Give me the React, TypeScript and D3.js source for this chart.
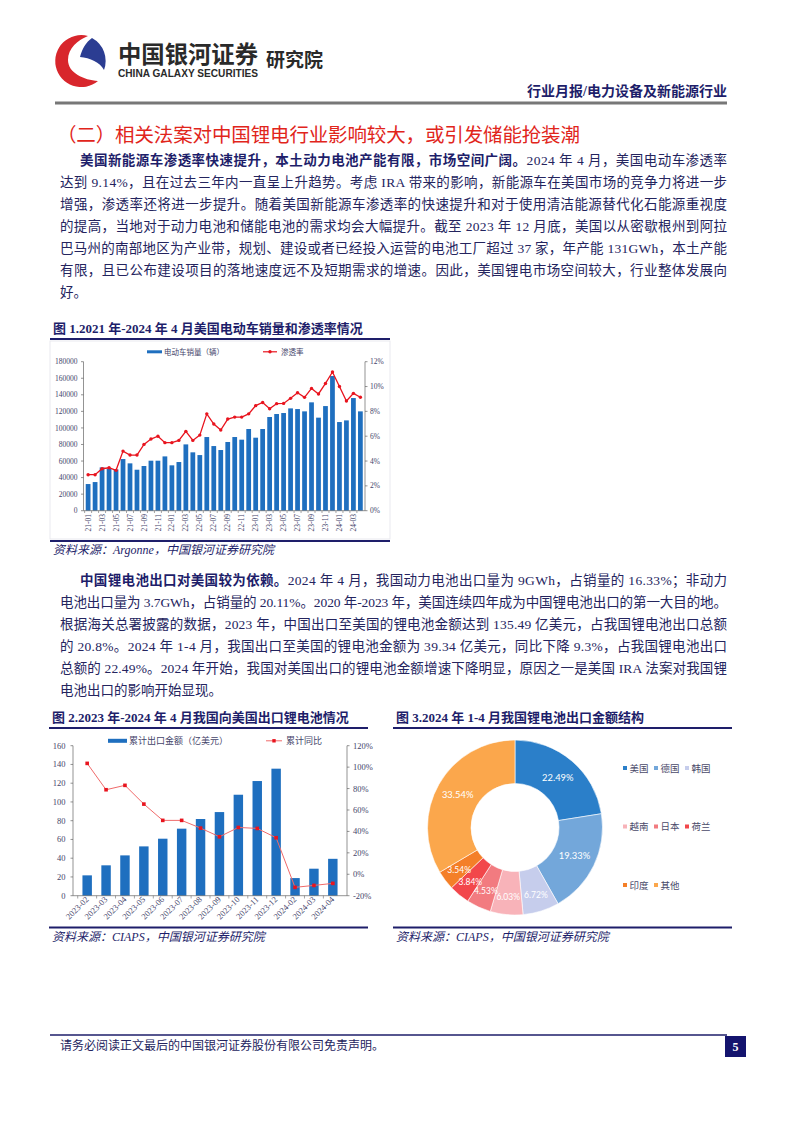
import React from "react"
import * as d3 from "d3"

// ---- data: figure 1 (US EV sales & penetration) ----
const evMonths = [
  "21-01", "21-02", "21-03", "21-04", "21-05", "21-06", "21-07", "21-08", "21-09", "21-10", "21-11", "21-12",
  "22-01", "22-02", "22-03", "22-04", "22-05", "22-06", "22-07", "22-08", "22-09", "22-10", "22-11", "22-12",
  "23-01", "23-02", "23-03", "23-04", "23-05", "23-06", "23-07", "23-08", "23-09", "23-10", "23-11", "23-12",
  "24-01", "24-02", "24-03", "24-04",
]
const evSales = [
  32200, 34600, 52300, 50700, 49900, 62400, 57200, 49500, 54000, 60400, 60400, 65600,
  54800, 58800, 80100, 70500, 67200, 89000, 78100, 73300, 83000, 89000, 85800, 98700,
  88200, 98700, 113200, 116800, 118000, 123600, 122800, 120000, 130900, 112400, 126400, 162700,
  107100, 109100, 136100, 120000,
]
const evRate = [
  2.9, 2.9, 3.38, 3.46, 3.25, 4.8, 4.48, 4.48, 5.34, 5.77, 6.0, 5.48,
  5.48, 5.66, 6.39, 5.66, 6.09, 7.8, 6.98, 6.5, 7.38, 7.54, 7.54, 7.8,
  8.46, 8.72, 8.21, 8.62, 8.64, 9.05, 9.5, 9.13, 9.85, 9.4, 10.25, 11.17,
  10.0, 8.83, 9.45, 9.14,
]
const evLeftTicks = [0, 20000, 40000, 60000, 80000, 100000, 120000, 140000, 160000, 180000]
const evRightTicks = [0, 2, 4, 6, 8, 10, 12]

// ---- data: figure 2 (exports to US) ----
const expMonths = [
  "2023-02", "2023-03", "2023-04", "2023-05", "2023-06", "2023-07", "2023-08", "2023-09",
  "2023-10", "2023-11", "2023-12", "2024-02", "2024-03", "2024-04",
]
const expAmount = [21.7, 32.4, 43, 52.6, 60.8, 71.5, 81.8, 89.2, 107.7, 122.3, 135.49, 18.8, 28.8, 39.34]
const expYoy = [103.5, 78.9, 83, 65.5, 50.3, 50.3, 43.1, 35, 43.7, 42.8, 34.1, -12.2, -10.4, -8.5]
const expLeftTicks = [0, 20, 40, 60, 80, 100, 120, 140, 160]
const expRightTicks = [-20, 0, 20, 40, 60, 80, 100, 120]

// ---- data: figure 3 (export structure) ----
const shareNames = ["美国", "德国", "韩国", "越南", "日本", "荷兰", "印度", "其他"]
const shareValues = [22.49, 19.33, 6.72, 6.03, 4.53, 3.84, 3.54, 33.54]
const shareColors = ["#2b7fc9", "#73a7da", "#c6cdec", "#f8b3b9", "#f27b80", "#f2474b", "#f47f28", "#fba74c"]

const SERIF = '"Liberation Serif", "Noto Sans CJK SC", serif'
const NAVY = "#1e1e6a"
const TXT = "#24245e"
const BLUE = "#1f6fbf"
const RED = "#e8141e"

const para1 = [
  { b: "美国新能源车渗透率快速提升，本土动力电池产能有限，市场空间广阔。", t: "2024 年 4 月，美国电动车渗透率" },
  { t: "达到 9.14%，且在过去三年内一直呈上升趋势。考虑 IRA 带来的影响，新能源车在美国市场的竞争力将进一步" },
  { t: "增强，渗透率还将进一步提升。随着美国新能源车渗透率的快速提升和对于使用清洁能源替代化石能源重视度" },
  { t: "的提高，当地对于动力电池和储能电池的需求均会大幅提升。截至 2023 年 12 月底，美国以从密歇根州到阿拉" },
  { t: "巴马州的南部地区为产业带，规划、建设或者已经投入运营的电池工厂超过 37 家，年产能 131GWh，本土产能" },
  { t: "有限，且已公布建设项目的落地速度远不及短期需求的增速。因此，美国锂电市场空间较大，行业整体发展向" },
  { t: "好。", last: true },
]
const para2 = [
  { b: "中国锂电池出口对美国较为依赖。", t: "2024 年 4 月，我国动力电池出口量为 9GWh，占销量的 16.33%；非动力" },
  { t: "电池出口量为 3.7GWh，占销量的 20.11%。2020 年-2023 年，美国连续四年成为中国锂电池出口的第一大目的地。" },
  { t: "根据海关总署披露的数据，2023 年，中国出口至美国的锂电池金额达到 135.49 亿美元，占我国锂电池出口总额" },
  { t: "的 20.8%。2024 年 1-4 月，我国出口至美国的锂电池金额为 39.34 亿美元，同比下降 9.3%，占我国锂电池出口" },
  { t: "总额的 22.49%。2024 年开始，我国对美国出口的锂电池金额增速下降明显，原因之一是美国 IRA 法案对我国锂" },
  { t: "电池出口的影响开始显现。", last: true },
]

type Line = { b?: string; t: string; last?: boolean }

function Paragraph({ lines, y0 }: { lines: Line[]; y0: number }) {
  return (
    <g fontFamily={SERIF} fontSize={13.5} fill={TXT}>
      {lines.map((l, i) => {
        const x = i === 0 ? 80 : 60
        const fit = l.last ? {} : { textLength: 727 - x, lengthAdjust: "spacing" }
        return (
          <text key={i} x={x} y={y0 + i * 22} {...fit}>
            {l.b && <tspan fontWeight="bold" fill={NAVY}>{l.b}</tspan>}
            <tspan>{l.t}</tspan>
          </text>
        )
      })}
    </g>
  )
}

function FigTitle({ x, x2, y, text }: { x: number; x2: number; y: number; text: string }) {
  return (
    <g>
      <text x={x + 3} y={y} fontFamily={SERIF} fontSize={13} fontWeight="bold" fill={NAVY}>{text}</text>
      <line x1={x} x2={x2} y1={y + 6} y2={y + 6} stroke={NAVY} strokeWidth={2} />
    </g>
  )
}

function Source({ x, x2, y, text }: { x: number; x2: number; y: number; text: string }) {
  return (
    <g>
      <line x1={x} x2={x2} y1={y} y2={y} stroke={NAVY} strokeWidth={2} />
      <text x={x + 3} y={y + 13} fontFamily={SERIF} fontSize={12} fontStyle="italic" fill={NAVY}>{text}</text>
    </g>
  )
}

function EvChart() {
  const x = d3.scaleBand<string>().domain(evMonths).range([83.5, 365]).padding(0.32)
  const yL = d3.scaleLinear().domain([0, 180000]).range([510.7, 361.7])
  const yR = d3.scaleLinear().domain([0, 12]).range([510.7, 361.7])
  const cx = (m: string) => (x(m) ?? 0) + x.bandwidth() / 2
  const gap = (x.step() - x.bandwidth()) / 2
  const line = d3.line<number>().x((_, i) => cx(evMonths[i])).y((d) => yR(d))
  const tc = "#44446a"
  return (
    <g fontFamily={SERIF}>
      <rect x={50} y={341} width={340} height={198} fill="none" stroke="#e4e4ea" strokeWidth={0.8} />
      {/* legend */}
      <rect x={147} y={350.3} width={15} height={3} fill={BLUE} />
      <text x={164} y={354.5} fontSize={7.5} fill={tc}>电动车销量（辆）</text>
      <line x1={263} x2={277} y1={351.8} y2={351.8} stroke={RED} strokeWidth={1.2} />
      <circle cx={270} cy={351.8} r={1.7} fill={RED} />
      <text x={281} y={354.5} fontSize={7.5} fill={tc}>渗透率</text>
      {/* bars */}
      {evSales.map((v, i) => (
        <rect key={i} x={x(evMonths[i])} y={yL(v)} width={x.bandwidth()} height={yL(0) - yL(v)} fill={BLUE} />
      ))}
      {/* axes */}
      <line x1={83.5} x2={83.5} y1={361.7} y2={510.7} stroke="#666" strokeWidth={0.7} />
      <line x1={365} x2={365} y1={361.7} y2={510.7} stroke="#666" strokeWidth={0.7} />
      <line x1={83.5} x2={365} y1={510.7} y2={510.7} stroke="#666" strokeWidth={0.7} />
      {evLeftTicks.map((t) => (
        <g key={t}>
          <line x1={81} x2={83.5} y1={yL(t)} y2={yL(t)} stroke="#666" strokeWidth={0.7} />
          <text x={77.5} y={yL(t) + 2.6} fontSize={7.5} textAnchor="end" fill={tc}>{t}</text>
        </g>
      ))}
      {evRightTicks.map((t) => (
        <g key={t}>
          <line x1={365} x2={367.5} y1={yR(t)} y2={yR(t)} stroke="#666" strokeWidth={0.7} />
          <text x={370} y={yR(t) + 2.6} fontSize={7.5} fill={tc}>{t}%</text>
        </g>
      ))}
      {evMonths.map((m, i) => (
        <g key={m}>
          <line x1={(x(m) ?? 0) - gap} x2={(x(m) ?? 0) - gap} y1={510.7} y2={513} stroke="#666" strokeWidth={0.6} />
          {i % 2 === 0 && (
            <text transform={`translate(${cx(m) + 2.6},${514}) rotate(-90)`} fontSize={7.5} textAnchor="end" fill={tc}>{m}</text>
          )}
        </g>
      ))}
      {/* line */}
      <path d={line(evRate) ?? ""} fill="none" stroke={RED} strokeWidth={1.3} />
      {evRate.map((v, i) => (
        <circle key={i} cx={cx(evMonths[i])} cy={yR(v)} r={1.7} fill={RED} />
      ))}
    </g>
  )
}

function ExportChart() {
  const x = d3.scaleBand<string>().domain(expMonths).range([73, 347]).padding(0.5)
  const yL = d3.scaleLinear().domain([0, 160]).range([895.7, 745.7])
  const yR = d3.scaleLinear().domain([-20, 120]).range([895.7, 745.7])
  const cx = (m: string) => (x(m) ?? 0) + x.bandwidth() / 2
  const gap = (x.step() - x.bandwidth()) / 2
  const line = d3.line<number>().x((_, i) => cx(expMonths[i])).y((d) => yR(d))
  const tc = "#44446a"
  return (
    <g fontFamily={SERIF}>
      {/* legend */}
      <rect x={108} y={738.8} width={19} height={4} fill={BLUE} />
      <text x={129} y={744} fontSize={9} fill={tc}>累计出口金额（亿美元）</text>
      <line x1={266} x2={282} y1={740.8} y2={740.8} stroke="#f06a6a" strokeWidth={1} />
      <rect x={272.3} y={739.1} width={3.4} height={3.4} fill={RED} />
      <text x={286} y={744} fontSize={9} fill={tc}>累计同比</text>
      {expAmount.map((v, i) => (
        <rect key={i} x={x(expMonths[i])} y={yL(v)} width={x.bandwidth()} height={yL(0) - yL(v)} fill={BLUE} />
      ))}
      <line x1={73} x2={73} y1={745.7} y2={895.7} stroke="#666" strokeWidth={0.7} />
      <line x1={347} x2={347} y1={745.7} y2={895.7} stroke="#666" strokeWidth={0.7} />
      <line x1={73} x2={347} y1={895.7} y2={895.7} stroke="#666" strokeWidth={0.7} />
      {expLeftTicks.map((t) => (
        <g key={t}>
          <line x1={70.5} x2={73} y1={yL(t)} y2={yL(t)} stroke="#666" strokeWidth={0.7} />
          <text x={65.5} y={yL(t) + 3} fontSize={8.5} textAnchor="end" fill={tc}>{t}</text>
        </g>
      ))}
      {expRightTicks.map((t) => (
        <g key={t}>
          <line x1={347} x2={349.5} y1={yR(t)} y2={yR(t)} stroke="#666" strokeWidth={0.7} />
          <text x={353} y={yR(t) + 3} fontSize={8.5} fill={tc}>{t}%</text>
        </g>
      ))}
      {expMonths.map((m) => (
        <g key={m}>
          <line x1={(x(m) ?? 0) - gap} x2={(x(m) ?? 0) - gap} y1={895.7} y2={898.5} stroke="#666" strokeWidth={0.6} />
          <text transform={`translate(${cx(m) + 2},${900}) rotate(-45)`} fontSize={8.5} textAnchor="end" fill={tc}>{m}</text>
        </g>
      ))}
      <path d={line(expYoy) ?? ""} fill="none" stroke="#f06a6a" strokeWidth={1} />
      {expYoy.map((v, i) => (
        <rect key={i} x={cx(expMonths[i]) - 1.8} y={yR(v) - 1.8} width={3.6} height={3.6} fill={RED} />
      ))}
    </g>
  )
}

function ShareDonut() {
  const cx = 515
  const cy = 827.5
  const pie = d3.pie<number>().sort(null).value((d) => d)
  const arcs = pie(shareValues)
  const arc = d3.arc<d3.PieArcDatum<number>>().innerRadius(44).outerRadius(87.5)
  const lab = d3.arc<d3.PieArcDatum<number>>().innerRadius(70).outerRadius(70)
  const legendPos = [
    [625, 768], [656, 768], [687, 768],
    [625, 826.5], [656, 826.5], [687, 826.5],
    [625, 885], [656, 885],
  ]
  return (
    <g>
      <g transform={`translate(${cx},${cy})`}>
        {arcs.map((a, i) => (
          <path key={i} d={arc(a) ?? ""} fill={shareColors[i]} stroke="#fff" strokeWidth={0.6} />
        ))}
        {arcs.map((a, i) => {
          const [lx, ly] = (i < 2 || i === 7 ? d3.arc<d3.PieArcDatum<number>>().innerRadius(66).outerRadius(66) : lab).centroid(a)
          return (
            <text key={i} x={lx} y={ly + 3.2} textAnchor="middle" fontFamily="Lato, sans-serif" fontSize={i < 2 || i === 7 ? 9.4 : 8.5}
              fill="#fff">{shareValues[i].toFixed(2)}%</text>
          )
        })}
      </g>
      {shareNames.map((n, i) => (
        <g key={n}>
          <rect x={legendPos[i][0] - 2} y={legendPos[i][1] - 2} width={4} height={4} fill={shareColors[i]} />
          <text x={legendPos[i][0] + 4.5} y={legendPos[i][1] + 3.5} fontFamily={SERIF} fontSize={9.5} fill="#4a4a6a">{n}</text>
        </g>
      ))}
    </g>
  )
}

function Logo() {
  return (
    <g>
      <path d="M 88 36 A 26 26 0 1 0 98 81 C 84 80 68 73 68 60 C 68 48 78 40 88 36 Z" fill="#d8262c" />
      <path d="M 92 38 A 26 26 0 0 1 104 70 C 100 62 90 58 80 57 C 82 49 86 42 92 38 Z" fill="#2b3d92" />
      <text x={118} y={63} fontFamily='"Noto Sans CJK SC", sans-serif' fontWeight="bold" fontSize={23.5} fill="#2a2a2a"
        textLength={140} lengthAdjust="spacingAndGlyphs">中国银河证券</text>
      <text x={118} y={77} fontFamily='"Liberation Sans", Arial, sans-serif' fontWeight="bold" fontSize={10} fill="#2a2a2a"
        textLength={140} lengthAdjust="spacingAndGlyphs">CHINA GALAXY SECURITIES</text>
      <text x={266} y={67} fontFamily='"Noto Sans CJK SC", sans-serif' fontWeight="bold" fontSize={19} fill="#2a2a2a">研究院</text>
    </g>
  )
}

export default function App() {
  return (
    <svg width={802} height={1133} style={{ position: "absolute", left: 0, top: 0, background: "#fff" }}>
      <rect width={802} height={1133} fill="#fff" />
      <Logo />
      <text x={727} y={96} textAnchor="end" fontFamily={SERIF} fontSize={14} fontWeight="bold" fill={NAVY}>
        行业月报/电力设备及新能源行业
      </text>
      <line x1={55} x2={727} y1={103} y2={103} stroke="#777" strokeWidth={3} />

      <text x={57} y={142} fontFamily={SERIF} fontSize={19.5} fill="#e1251b" textLength={523} lengthAdjust="spacing">
        （二）相关法案对中国锂电行业影响较大，或引发储能抢装潮
      </text>

      <Paragraph lines={para1} y0={165} />

      <FigTitle x={50} x2={390} y={333} text="图 1.2021 年-2024 年 4 月美国电动车销量和渗透率情况" />
      <EvChart />
      <Source x={50} x2={390} y={541} text="资料来源：Argonne，中国银河证券研究院" />

      <Paragraph lines={para2} y0={585} />

      <FigTitle x={49} x2={368} y={722} text="图 2.2023 年-2024 年 4 月我国向美国出口锂电池情况" />
      <ExportChart />
      <Source x={49} x2={368} y={927.5} text="资料来源：CIAPS，中国银河证券研究院" />

      <FigTitle x={393} x2={732} y={722} text="图 3.2024 年 1-4 月我国锂电池出口金额结构" />
      <ShareDonut />
      <Source x={393} x2={732} y={927.5} text="资料来源：CIAPS，中国银河证券研究院" />

      <line x1={50} x2={727} y1={1035} y2={1035} stroke={NAVY} strokeWidth={1.5} />
      <text x={60} y={1050} fontFamily={SERIF} fontSize={12} fill={TXT}>请务必阅读正文最后的中国银河证券股份有限公司免责声明。</text>
      <rect x={725} y={1036} width={21} height={21} fill="#14146e" />
      <text x={735.5} y={1051} textAnchor="middle" fontFamily={SERIF} fontSize={12} fontWeight="bold" fill="#fff">5</text>
    </svg>
  )
}
